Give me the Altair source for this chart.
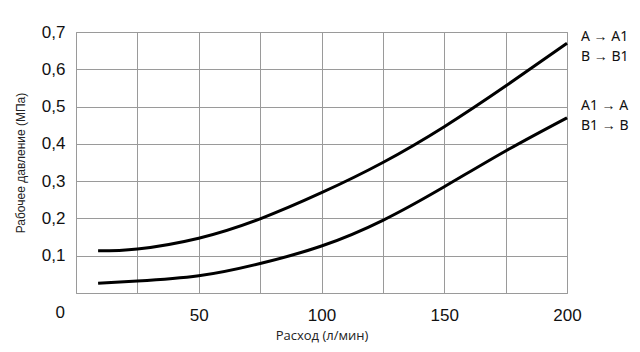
import altair as alt
import pandas as pd

flow = [9, 25, 50, 75, 100, 125, 150, 175, 200]
upper = [0.113, 0.118, 0.147, 0.199, 0.269, 0.350, 0.446, 0.555, 0.670]
lower = [0.026, 0.032, 0.046, 0.079, 0.126, 0.195, 0.285, 0.381, 0.470]
series_names = ["A → A1 / B → B1", "A1 → A / B1 → B"]
label_upper = ["A → A1", "B → B1"]
label_lower = ["A1 → A", "B1 → B"]
corner_label = ["0"]
x_ticks = [0, 25, 50, 75, 100, 125, 150, 175, 200]
y_ticks = [0, 0.1, 0.2, 0.3, 0.4, 0.5, 0.6, 0.7]

rows = []
for s, vals in zip(series_names, [upper, lower]):
    for f, v in zip(flow, vals):
        rows.append({"flow": f, "p": v, "series": s})
df = pd.DataFrame(rows)

x_scale = alt.Scale(domain=[0, 200], nice=False, zero=False)
y_scale = alt.Scale(domain=[0, 0.7], nice=False)

x_axis = alt.Axis(
    values=x_ticks, title="Расход (л/мин)",
    labelExpr="datum.value % 50 == 0 && datum.value > 0 ? format(datum.value, 'd') : ''",
    titleFont="Open Sans", titleFontSize=13, titlePadding=6,
)
y_axis = alt.Axis(
    values=y_ticks, title="Рабочее давление (МПа)",
    labelExpr="datum.value == 0 ? '' : replace(format(datum.value, '.1f'), '.', ',')",
    titleFont="Liberation Sans", titleFontSize=12, titlePadding=14,
)

xa = alt.X("flow:Q", scale=x_scale, axis=x_axis)
ya = alt.Y("p:Q", scale=y_scale, axis=y_axis)

lines = alt.Chart(df).mark_line(color="black", strokeWidth=3, interpolate="natural").encode(
    x=xa, y=ya, detail="series:N"
)

origin = pd.DataFrame({"flow": [x_ticks[0]], "p": [y_ticks[0]], "t": corner_label})
zero_text = alt.Chart(origin).mark_text(
    align="right", baseline="middle", dx=-11, dy=20,
    font="Liberation Sans", fontSize=17, color="#111"
).encode(x=xa, y=ya, text="t:N")

end_u = pd.DataFrame({"flow": [flow[-1]], "p": [upper[-1]]})
end_l = pd.DataFrame({"flow": [flow[-1]], "p": [lower[-1]]})

def lab(d, text, dy):
    return alt.Chart(d).mark_text(
        text=text, align="left", baseline="middle", dx=14, dy=dy,
        font="Noto Sans", fontSize=14, color="#111"
    ).encode(x=xa, y=ya)

chart = alt.layer(
    lines,
    zero_text,
    lab(end_u, label_upper[0], -6),
    lab(end_u, label_upper[1], 14),
    lab(end_l, label_lower[0], -12),
    lab(end_l, label_lower[1], 8),
).properties(
    width=491, height=261,
    background="white",
    autosize=alt.AutoSizeParams(type="none"),
    padding={"left": 76, "top": 32, "right": 73, "bottom": 59},
).configure_view(
    stroke="#9a9a9a", strokeWidth=1, clip=False
).configure_axis(
    grid=True, gridColor="#9a9a9a", gridWidth=1, gridOpacity=1,
    ticks=False, domain=False,
    labelFont="Liberation Sans", labelFontSize=17, labelColor="#111",
    labelOverlap=False, labelFlush=False, labelBound=False,
    titleFontWeight="normal", titleColor="#222",
).configure_axisX(labelPadding=14).configure_axisY(labelPadding=11)

chart.save("out.html", embed_options={"renderer": "svg", "actions": False})
